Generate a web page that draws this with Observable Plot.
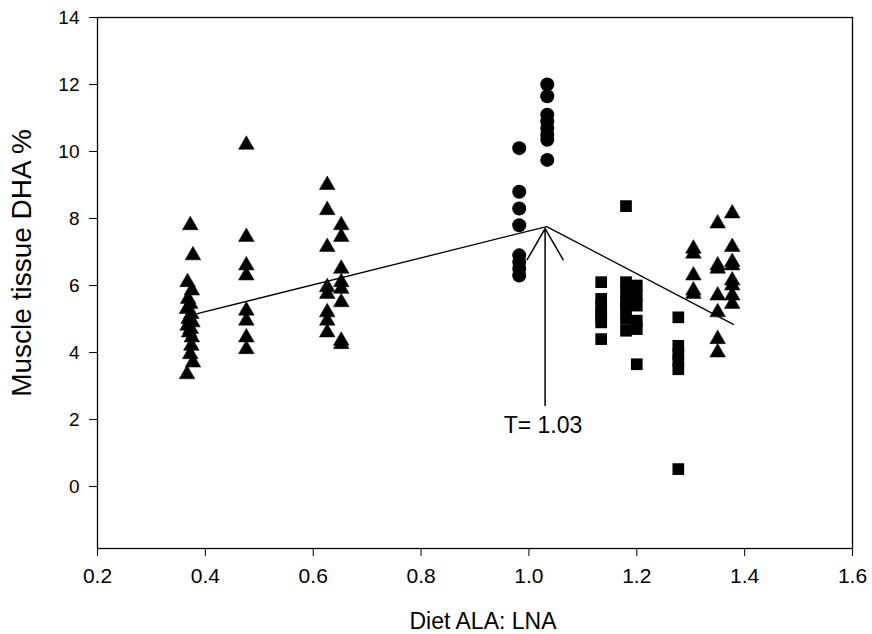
<!DOCTYPE html>
<html><head><meta charset="utf-8">
<script src="https://cdn.jsdelivr.net/npm/d3@7"></script>
<script src="https://cdn.jsdelivr.net/npm/@observablehq/plot@0.6"></script>
<style>body{margin:0;background:#fff}</style>
</head><body><div id="chart"></div>
<script>
// Triangles: [diet ALA:LNA, muscle DHA %]
const trianglesLow = [
  [0.372,7.8],[0.377,6.9],[0.367,6.1],[0.375,5.85],[0.368,5.6],[0.372,5.45],[0.366,5.3],
  [0.374,5.15],[0.369,5.0],[0.376,4.9],[0.367,4.8],[0.373,4.7],[0.370,4.6],[0.375,4.45],
  [0.374,4.2],[0.372,3.95],[0.377,3.7],[0.366,3.35],
  [0.476,10.2],[0.476,7.45],[0.476,6.6],[0.476,6.3],[0.476,5.25],[0.476,4.95],[0.476,4.45],[0.476,4.1],
  [0.626,9.0],[0.626,8.25],[0.626,7.15],[0.626,5.95],[0.626,5.75],[0.626,5.2],[0.626,4.95],[0.626,4.6],
  [0.652,7.8],[0.652,7.45],[0.652,6.5],[0.652,6.1],[0.652,5.9],[0.652,5.5],[0.652,4.35],[0.652,4.25]
];
const trianglesHigh = [
  [1.305,7.1],[1.305,6.95],[1.305,6.3],[1.305,5.85],[1.305,5.75],
  [1.350,7.85],[1.350,6.6],[1.350,6.5],[1.350,5.7],[1.350,5.2],[1.350,4.4],[1.350,4.0],
  [1.377,8.15],[1.377,7.15],[1.377,6.7],[1.377,6.6],[1.377,6.15],[1.377,6.0],[1.377,5.7],[1.377,5.45]
];
const circles = [
  [0.982,10.1],[0.982,8.8],[0.982,8.3],[0.982,7.8],[0.982,6.9],[0.982,6.7],[0.982,6.5],[0.982,6.3],
  [1.034,12.0],[1.034,11.65],[1.034,11.1],[1.034,10.9],[1.034,10.7],[1.034,10.5],[1.034,10.35],[1.034,9.75]
];
const squares = [
  [1.134,6.1],[1.134,5.6],[1.134,5.4],[1.134,5.2],[1.134,5.05],[1.134,4.9],[1.134,4.4],
  [1.180,8.37],[1.180,6.1],[1.180,5.8],[1.180,5.5],[1.180,5.3],[1.180,5.0],[1.180,4.65],
  [1.200,6.0],[1.200,5.7],[1.200,5.4],[1.200,4.95],[1.200,4.7],[1.200,3.65],
  [1.277,5.05],[1.277,4.2],[1.277,3.95],[1.277,3.75],[1.277,3.5],[1.277,0.52]
];
// Broken-line (two-segment) fit
const fitX = [0.385, 1.033, 1.379];
const fitY = [5.16, 7.76, 4.84];
// Threshold arrow and label
const thresholdX = 1.03;
const arrowY = [2.42, 7.7];
const thresholdLabel = "T= 1.03";
const thresholdLabelY = 1.82;
// Axes
const xTicks = [0.2, 0.4, 0.6, 0.8, 1.0, 1.2, 1.4, 1.6];
const yTicks = [0, 2, 4, 6, 8, 10, 12, 14];
const xLabel = "Diet ALA: LNA";
const yLabel = "Muscle tissue DHA %";

const toObj = a => a.map(([x, y]) => ({x, y}));
const fit = fitX.map((x, i) => ({x, y: fitY[i]}));

const plot = Plot.plot({
  width: 872, height: 634,
  marginLeft: 97, marginRight: 20, marginTop: 17, marginBottom: 86,
  style: {fontFamily: "'Liberation Sans', Arial, sans-serif", fontSize: "19px", background: "#fff", color: "#000"},
  x: {domain: [0.2, 1.6]},
  y: {domain: [-1.85, 14]},
  marks: [
    Plot.frame({stroke: "#000", strokeWidth: 1.3}),
    Plot.axisX({ticks: xTicks, tickFormat: d3.format(".1f"), tickSize: 8, tickPadding: 12, label: null, fontSize: 21}),
    Plot.axisY({ticks: yTicks, tickSize: 8, tickPadding: 10, label: null, fontSize: 19}),
    Plot.text([xLabel], {text: d => d, frameAnchor: "bottom", dx: 8, dy: 80, fontSize: 23}),
    Plot.text([yLabel], {text: d => d, frameAnchor: "left", textAnchor: "middle", rotate: -90, dx: -75, dy: -20, fontSize: 28}),
    Plot.line(fit, {x: "x", y: "y", stroke: "#000", strokeWidth: 1.3}),
    Plot.arrow([{x: thresholdX, y1: arrowY[0], y2: arrowY[1]}], {x1: "x", x2: "x", y1: "y1", y2: "y2", stroke: "#000", strokeWidth: 1.5, headLength: 36, headAngle: 60}),
    Plot.text([thresholdLabel], {text: d => d, x: thresholdX - 0.004, y: thresholdLabelY, fontSize: 23}),
    Plot.dot(toObj(trianglesLow), {x: "x", y: "y", symbol: "triangle", r: 5.8, fill: "#000", stroke: "#000", strokeWidth: 0.5}),
    Plot.dot(toObj(trianglesHigh), {x: "x", y: "y", symbol: "triangle", r: 5.8, fill: "#000", stroke: "#000", strokeWidth: 0.5}),
    Plot.dot(toObj(circles), {x: "x", y: "y", symbol: "circle", r: 7, fill: "#000"}),
    Plot.dot(toObj(squares), {x: "x", y: "y", symbol: "square", r: 6.6, fill: "#000"})
  ]
});
document.getElementById("chart").appendChild(plot);
</script>
</body></html>
